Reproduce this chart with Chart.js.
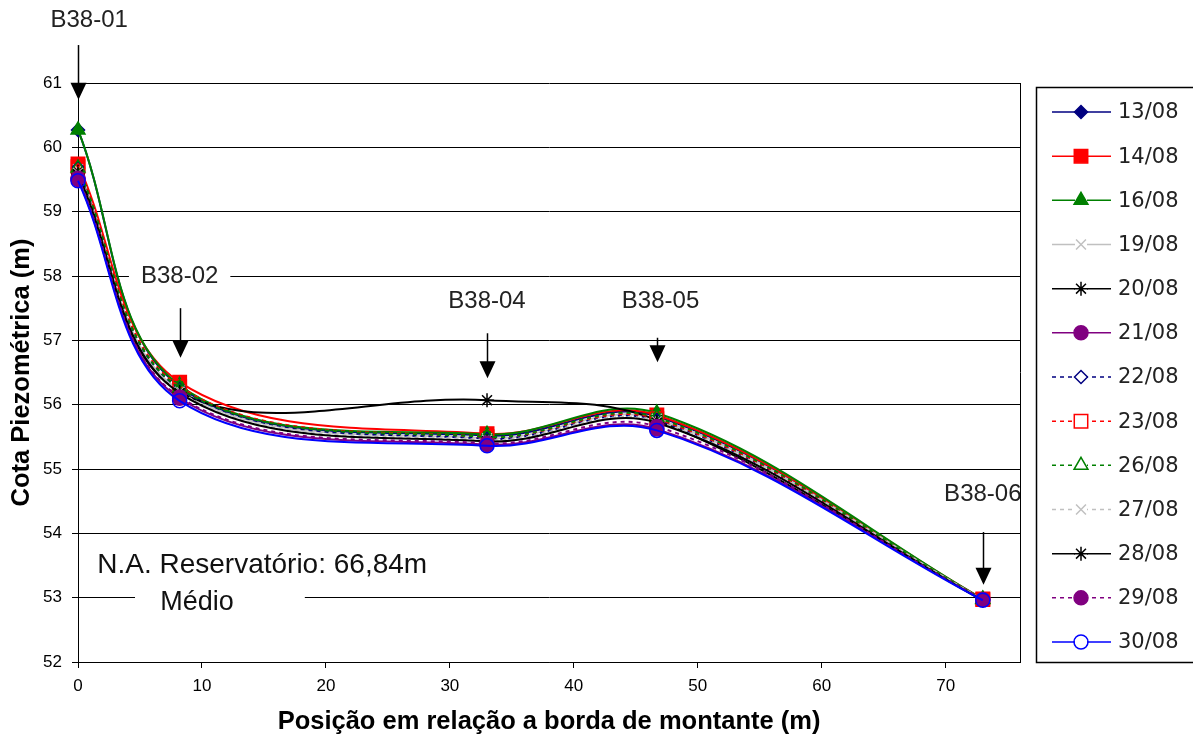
<!DOCTYPE html>
<html lang="pt">
<head>
<meta charset="utf-8">
<title>Cota Piezométrica</title>
<script src="https://cdn.jsdelivr.net/npm/chart.js@4/dist/chart.umd.min.js"></script>
<style>
  html, body { margin: 0; padding: 0; background: #fff; }
  #wrap { width: 1193px; height: 740px; }
</style>
</head>
<body>
<div id="wrap"><canvas id="grafico" width="1193" height="740"></canvas></div>
<script>
// posicao de cada piezometro em relacao a borda de montante (m)
const posicoes = [0, 8.2, 33, 46.7, 73];
const pontos = ['B38-01', 'B38-02', 'B38-04', 'B38-05', 'B38-06'];
const ticksX = [0, 10, 20, 30, 40, 50, 60, 70];
const ticksY = [52, 53, 54, 55, 56, 57, 58, 59, 60, 61];

const datas = ['13/08', '14/08', '16/08', '19/08', '20/08', '21/08', '22/08',
  '23/08', '26/08', '27/08', '28/08', '29/08', '30/08'];

// cota piezometrica (m) lida em cada data
const cota1308 = [60.27, 56.28, 55.52, 55.82, 52.97];
const cota1408 = [59.74, 56.35, 55.55, 55.84, 52.98];
const cota1608 = [60.27, 56.30, 55.54, 55.87, 52.98];
const cota1908 = [59.66, 56.22, 55.48, 55.78, 52.97];
const cota2008 = [59.62, 56.20, 56.07, 55.76, 52.96];
const cota2108 = [59.50, 56.10, 55.38, 55.62, 52.97];
const cota2208 = [59.68, 56.25, 55.47, 55.76, 52.97];
const cota2308 = [59.70, 56.28, 55.50, 55.78, 52.97];
const cota2608 = [59.68, 56.26, 55.50, 55.80, 52.97];
const cota2708 = [59.60, 56.20, 55.45, 55.74, 52.97];
const cota2808 = [59.58, 56.18, 55.43, 55.72, 52.96];
const cota2908 = [59.52, 56.12, 55.40, 55.66, 52.97];
const cota3008 = [59.48, 56.06, 55.36, 55.60, 52.96];

const series = [cota1308, cota1408, cota1608, cota1908, cota2008, cota2108, cota2208,
  cota2308, cota2608, cota2708, cota2808, cota2908, cota3008];

const estilos = [
  { cor: '#000080', ponto: 'rectRot', raio: 6.5, cheio: true, tracejado: false },
  { cor: '#ff0000', ponto: 'rect', raio: 9.5, cheio: true, tracejado: false },
  { cor: '#008000', ponto: 'triangle', raio: 8, cheio: true, tracejado: false },
  { cor: '#c0c0c0', ponto: 'crossRot', raio: 7, cheio: true, tracejado: false },
  { cor: '#000000', ponto: 'star', raio: 7, cheio: true, tracejado: false },
  { cor: '#800080', ponto: 'circle', raio: 7, cheio: true, tracejado: false },
  { cor: '#000080', ponto: 'rectRot', raio: 6.5, cheio: false, tracejado: true },
  { cor: '#ff0000', ponto: 'rect', raio: 9.5, cheio: false, tracejado: true },
  { cor: '#008000', ponto: 'triangle', raio: 8, cheio: false, tracejado: true },
  { cor: '#c0c0c0', ponto: 'crossRot', raio: 7, cheio: true, tracejado: true },
  { cor: '#000000', ponto: 'star', raio: 7, cheio: true, tracejado: false },
  { cor: '#800080', ponto: 'circle', raio: 7, cheio: true, tracejado: true },
  { cor: '#0000ff', ponto: 'circle', raio: 7, cheio: false, tracejado: false }
];

// setas indicando cada piezometro (coordenadas em unidades dos eixos)
const setas = [
  { rotulo: 'B38-01', x: 0, xRotulo: 0.9, yRotulo: 61.98, yTopo: 61.59, yPonta: 60.74 },
  { rotulo: 'B38-02', x: 8.2, xRotulo: 8.2, yRotulo: 58.0, yTopo: 57.5, yPonta: 56.73 },
  { rotulo: 'B38-04', x: 33, xRotulo: 33, yRotulo: 57.61, yTopo: 57.11, yPonta: 56.41 },
  { rotulo: 'B38-05', x: 46.7, xRotulo: 47, yRotulo: 57.61, yTopo: 57.04, yPonta: 56.66 },
  { rotulo: 'B38-06', x: 73, xRotulo: 73, yRotulo: 54.6, yTopo: 54.02, yPonta: 53.2 }
];

const datasets = series.map((valores, i) => {
  const e = estilos[i];
  return {
    label: datas[i],
    data: valores.map((v, k) => ({ x: posicoes[k], y: v })),
    borderColor: e.cor,
    borderWidth: 2,
    borderDash: e.tracejado ? [4, 4] : [],
    pointStyle: e.ponto,
    pointRadius: e.raio,
    pointBorderColor: e.cor,
    pointBorderWidth: 1.5,
    pointBackgroundColor: e.cheio ? e.cor : 'rgba(255,255,255,0)',
    tension: 0.36,
    fill: false,
    clip: false,
    order: -i
  };
});

const desenhos = {
  id: 'desenhos',
  afterDatasetsDraw(chart) {
    const { ctx, chartArea } = chart;
    const sx = chart.scales.x;
    const sy = chart.scales.y;
    ctx.save();

    // setas e rotulos
    ctx.font = '24px "Liberation Sans", Arial, sans-serif';
    ctx.textAlign = 'center';
    ctx.textBaseline = 'middle';
    setas.forEach(s => {
      const px = Math.round(sx.getPixelForValue(s.x)) + 0.5;
      const lx = sx.getPixelForValue(s.xRotulo);
      const ly = sy.getPixelForValue(s.yRotulo);
      const w = ctx.measureText(s.rotulo).width;
      ctx.fillStyle = '#fff';
      ctx.fillRect(lx - w / 2 - 12, ly - 12, w + 24, 24);
      ctx.fillStyle = '#222';
      ctx.fillText(s.rotulo, lx, ly);

      const yTopo = sy.getPixelForValue(s.yTopo);
      const yPonta = sy.getPixelForValue(s.yPonta);
      ctx.strokeStyle = '#000';
      ctx.lineWidth = 1.5;
      ctx.beginPath();
      ctx.moveTo(px, yTopo);
      ctx.lineTo(px, yPonta - 10);
      ctx.stroke();
      ctx.fillStyle = '#000';
      ctx.beginPath();
      ctx.moveTo(px - 8, yPonta - 17);
      ctx.lineTo(px + 8, yPonta - 17);
      ctx.lineTo(px, yPonta);
      ctx.closePath();
      ctx.fill();
    });

    // nivel do reservatorio
    const y1 = sy.getPixelForValue(53.5);
    const y2 = sy.getPixelForValue(52.93);
    ctx.fillStyle = '#fff';
    ctx.fillRect(sx.getPixelForValue(4.6), y2 - 13, sx.getPixelForValue(18.3) - sx.getPixelForValue(4.6), 26);
    ctx.fillStyle = '#111';
    ctx.font = '28px "Liberation Sans", Arial, sans-serif';
    ctx.textAlign = 'left';
    ctx.fillText('N.A. Reservatório: 66,84m', sx.getPixelForValue(1.55), y1);
    ctx.textAlign = 'center';
    ctx.font = '27px "Liberation Sans", Arial, sans-serif';
    ctx.fillText('Médio', sx.getPixelForValue(9.6), y2);

    // borda direita da area do grafico
    ctx.strokeStyle = '#000';
    ctx.lineWidth = 1;
    ctx.beginPath();
    ctx.moveTo(Math.round(chartArea.right) + 0.5, chartArea.top);
    ctx.lineTo(Math.round(chartArea.right) + 0.5, chartArea.bottom);
    ctx.stroke();
    ctx.restore();
  },
  afterDraw(chart) {
    const { ctx, chartArea } = chart;
    ctx.save();

    // titulos dos eixos
    ctx.fillStyle = '#000';
    ctx.font = 'bold 25.5px "Liberation Sans", Arial, sans-serif';
    ctx.textAlign = 'center';
    ctx.textBaseline = 'middle';
    ctx.fillText('Posição em relação a borda de montante (m)', (chartArea.left + chartArea.right) / 2, 722);
    ctx.translate(22, (chartArea.top + chartArea.bottom) / 2);
    ctx.rotate(-Math.PI / 2);
    ctx.fillText('Cota Piezométrica (m)', 0, 0);
    ctx.setTransform(1, 0, 0, 1, 0, 0);

    // legenda
    ctx.strokeStyle = '#000';
    ctx.lineWidth = 1.5;
    ctx.strokeRect(1036.5, 87.5, 170, 575);
    ctx.font = '21px "DejaVu Sans", Verdana, sans-serif';
    ctx.textAlign = 'left';
    datasets.forEach((d, i) => {
      const y = 112 + i * 44.17;
      ctx.strokeStyle = d.borderColor;
      ctx.lineWidth = 1.5;
      ctx.setLineDash(d.borderDash);
      ctx.beginPath();
      ctx.moveTo(1052, y);
      ctx.lineTo(1111, y);
      ctx.stroke();
      ctx.setLineDash([]);
      // area branca sob marcadores vazados
      ctx.fillStyle = '#fff';
      ctx.fillRect(1081 - 6, y - 6, 12, 12);
      ctx.fillStyle = d.pointBackgroundColor;
      ctx.strokeStyle = d.pointBorderColor;
      ctx.lineWidth = 1.5;
      Chart.helpers.drawPoint(ctx, {
        pointStyle: d.pointStyle, radius: d.pointRadius, borderWidth: 1.5, rotation: 0
      }, 1081, y);
      ctx.fillStyle = '#222';
      ctx.fillText(d.label, 1118, y + 1);
    });
    ctx.restore();
  }
};

new Chart(document.getElementById('grafico'), {
  type: 'line',
  data: { datasets },
  plugins: [desenhos],
  options: {
    responsive: false,
    animation: false,
    layout: { padding: { left: 0, top: 83, right: 173, bottom: 0 } },
    plugins: { legend: { display: false }, tooltip: { enabled: false } },
    scales: {
      x: {
        type: 'linear',
        min: 0,
        max: 76,
        afterBuildTicks: s => { s.ticks = ticksX.map(v => ({ value: v })); },
        afterFit: s => { s.height = 78; },
        grid: { drawOnChartArea: false, drawTicks: true, tickLength: 6, color: '#000' },
        border: { color: '#000', width: 1 },
        ticks: { color: '#000', padding: 8, maxRotation: 0, font: { family: '"Liberation Sans", Arial', size: 17 } }
      },
      y: {
        min: 52,
        max: 61,
        afterBuildTicks: s => { s.ticks = ticksY.map(v => ({ value: v })); },
        afterFit: s => { s.width = 78; },
        grid: { color: '#000', tickLength: 6 },
        border: { color: '#000', width: 1 },
        ticks: { color: '#000', padding: 10, font: { family: '"Liberation Sans", Arial', size: 17 } }
      }
    }
  }
});
</script>
</body>
</html>
